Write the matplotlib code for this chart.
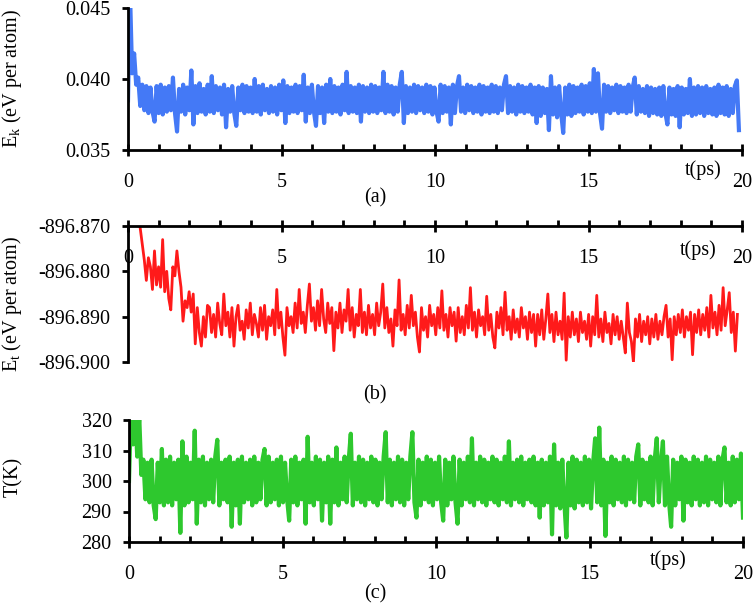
import numpy as np
import matplotlib
matplotlib.use("Agg")
import matplotlib.pyplot as plt
from matplotlib.ticker import MultipleLocator

plt.rcParams['font.family'] = ['Liberation Serif', 'DejaVu Serif']
plt.rcParams['mathtext.fontset'] = 'custom'
plt.rcParams['mathtext.rm'] = 'Liberation Serif'
plt.rcParams['mathtext.it'] = 'Liberation Serif:italic'
plt.rcParams['path.simplify'] = False

# ---------------- data ----------------
t_end_a = 19.9
ek = [
    0.0385, 0.0460, 0.0404, 0.0418, 0.0396, 0.0401, 0.0381, 0.0396, 0.0378, 0.0395, 0.0376, 0.0394, 0.0377, 0.0370, 0.0395, 0.0376, 0.0396, 0.0375, 0.0394, 0.0377,
    0.0395, 0.0378, 0.0401, 0.0376, 0.0363, 0.0393, 0.0377, 0.0396, 0.0375, 0.0394, 0.0378, 0.0406, 0.0368, 0.0395, 0.0376, 0.0397, 0.0377, 0.0393, 0.0375, 0.0396,
    0.0377, 0.0402, 0.0376, 0.0395, 0.0378, 0.0394, 0.0375, 0.0396, 0.0366, 0.0393, 0.0377, 0.0395, 0.0376, 0.0367, 0.0394, 0.0378, 0.0396, 0.0376, 0.0395, 0.0377,
    0.0394, 0.0376, 0.0400, 0.0377, 0.0395, 0.0375, 0.0396, 0.0378, 0.0393, 0.0376, 0.0395, 0.0377, 0.0394, 0.0375, 0.0396, 0.0378, 0.0399, 0.0369, 0.0395, 0.0376,
    0.0394, 0.0377, 0.0396, 0.0376, 0.0395, 0.0378, 0.0403, 0.0370, 0.0394, 0.0376, 0.0396, 0.0377, 0.0367, 0.0395, 0.0376, 0.0394, 0.0369, 0.0396, 0.0377, 0.0400,
    0.0376, 0.0395, 0.0377, 0.0394, 0.0375, 0.0396, 0.0378, 0.0405, 0.0376, 0.0395, 0.0377, 0.0394, 0.0376, 0.0396, 0.0370, 0.0395, 0.0377, 0.0394, 0.0376, 0.0396,
    0.0377, 0.0395, 0.0376, 0.0394, 0.0378, 0.0405, 0.0376, 0.0396, 0.0377, 0.0395, 0.0375, 0.0394, 0.0377, 0.0396, 0.0405, 0.0369, 0.0395, 0.0376, 0.0394, 0.0377,
    0.0396, 0.0376, 0.0395, 0.0378, 0.0394, 0.0376, 0.0396, 0.0377, 0.0395, 0.0375, 0.0394, 0.0377, 0.0370, 0.0396, 0.0376, 0.0395, 0.0377, 0.0394, 0.0368, 0.0396,
    0.0376, 0.0395, 0.0402, 0.0377, 0.0394, 0.0376, 0.0396, 0.0378, 0.0395, 0.0376, 0.0394, 0.0377, 0.0396, 0.0375, 0.0395, 0.0377, 0.0394, 0.0376, 0.0396, 0.0377,
    0.0395, 0.0376, 0.0394, 0.0378, 0.0396, 0.0402, 0.0376, 0.0395, 0.0377, 0.0394, 0.0375, 0.0396, 0.0377, 0.0395, 0.0376, 0.0394, 0.0377, 0.0396, 0.0375, 0.0394,
    0.0369, 0.0395, 0.0374, 0.0394, 0.0376, 0.0393, 0.0364, 0.0402, 0.0375, 0.0394, 0.0373, 0.0395, 0.0376, 0.0362, 0.0394, 0.0375, 0.0396, 0.0374, 0.0395, 0.0376,
    0.0394, 0.0377, 0.0396, 0.0375, 0.0395, 0.0377, 0.0397, 0.0376, 0.0407, 0.0377, 0.0404, 0.0376, 0.0365, 0.0396, 0.0377, 0.0395, 0.0376, 0.0394, 0.0378, 0.0396,
    0.0376, 0.0395, 0.0377, 0.0394, 0.0376, 0.0396, 0.0377, 0.0394, 0.0401, 0.0375, 0.0395, 0.0377, 0.0393, 0.0376, 0.0395, 0.0374, 0.0394, 0.0376, 0.0393, 0.0375,
    0.0394, 0.0374, 0.0395, 0.0376, 0.0368, 0.0394, 0.0375, 0.0393, 0.0374, 0.0395, 0.0366, 0.0394, 0.0375, 0.0393, 0.0376, 0.0400, 0.0374, 0.0394, 0.0375, 0.0395,
    0.0376, 0.0394, 0.0374, 0.0395, 0.0376, 0.0393, 0.0375, 0.0394, 0.0374, 0.0396, 0.0376, 0.0394, 0.0375, 0.0395, 0.0374, 0.0393, 0.0376, 0.0395, 0.0399, 0.0364,
]

t_end_b = 19.85
et = [
    -896.862, -896.864, -896.866, -896.865, -896.867, -896.868, -896.8705, -896.8740, -896.8775, -896.8820,
    -896.8770, -896.8790, -896.8840, -896.8755, -896.8830, -896.8790, -896.8835, -896.8730, -896.8845, -896.8800,
    -896.8860, -896.8885, -896.8790, -896.8810, -896.8755, -896.8800, -896.8835, -896.8910, -896.8865, -896.8880,
    -896.8845, -896.8890, -896.8850, -896.8960, -896.8880, -896.8935, -896.8965, -896.8900, -896.8945, -896.8875,
    -896.8880, -896.8935, -896.8895, -896.8945, -896.8870, -896.8915, -896.8940, -896.8850, -896.8920, -896.8890,
    -896.8945, -896.8880, -896.8965, -896.8900, -896.8875, -896.8930, -896.8910, -896.8950, -896.8885, -896.8925,
    -896.8870, -896.8940, -896.8895, -896.8915, -896.8945, -896.8880, -896.8930, -896.8875, -896.8950, -896.8900,
    -896.8920, -896.8885, -896.8940, -896.8840, -896.8925, -896.8890, -896.8945, -896.8985, -896.8880, -896.8920,
    -896.8900, -896.8935, -896.8870, -896.8925, -896.8840, -896.8915, -896.8890, -896.8935, -896.8875, -896.8828,
    -896.8910, -896.8880, -896.8930, -896.8865, -896.8920, -896.8840, -896.8905, -896.8935, -896.8870, -896.8915,
    -896.8880, -896.8975, -896.8890, -896.8925, -896.8870, -896.8935, -896.8885, -896.8910, -896.8840, -896.8930,
    -896.8880, -896.8945, -896.8895, -896.8920, -896.8840, -896.8935, -896.8890, -896.8940, -896.8875, -896.8925,
    -896.8895, -896.8940, -896.8870, -896.8920, -896.8890, -896.8828, -896.8925, -896.8880, -896.8935, -896.8905,
    -896.8965, -896.8885, -896.8920, -896.8819, -896.8930, -896.8895, -896.8940, -896.8875, -896.8925, -896.8853,
    -896.8920, -896.8890, -896.8945, -896.8978, -896.8880, -896.8930, -896.8900, -896.8945, -896.8875, -896.8920,
    -896.8895, -896.8940, -896.8880, -896.8925, -896.8843, -896.8930, -896.8895, -896.8945, -896.8880, -896.8920,
    -896.8890, -896.8954, -896.8880, -896.8935, -896.8900, -896.8940, -896.8875, -896.8925, -896.8836, -896.8930,
    -896.8890, -896.8945, -896.8885, -896.8920, -896.8900, -896.8940, -896.8855, -896.8930, -896.8895, -896.8945,
    -896.8969, -896.8890, -896.8925, -896.8880, -896.8940, -896.8846, -896.8930, -896.8900, -896.8950, -896.8885,
    -896.8935, -896.8905, -896.8945, -896.8880, -896.8925, -896.8900, -896.8950, -896.8890, -896.8935, -896.8895,
    -896.8965, -896.8895, -896.8940, -896.8885, -896.8950, -896.8905, -896.8850, -896.8935, -896.8895, -896.8955,
    -896.8890, -896.8940, -896.8910, -896.8950, -896.8848, -896.8996, -896.8900, -896.8945, -896.8890, -896.8940,
    -896.8905, -896.8955, -896.8890, -896.8935, -896.8910, -896.8950, -896.8895, -896.8965, -896.8900, -896.8940,
    -896.8853, -896.8945, -896.8905, -896.8955, -896.8890, -896.8935, -896.8915, -896.8960, -896.8895, -896.8940,
    -896.8900, -896.8950, -896.8910, -896.8945, -896.8980, -896.8870, -896.8935, -896.8955, -896.9001, -896.8905,
    -896.8945, -896.8895, -896.8955, -896.8910, -896.8940, -896.8900, -896.8960, -896.8905, -896.8945, -896.8895,
    -896.8950, -896.8910, -896.8940, -896.8900, -896.8875, -896.8945, -896.8905, -896.8995, -896.8900, -896.8940,
    -896.8895, -896.8935, -896.8885, -896.8945, -896.8900, -896.8930, -896.8890, -896.8984, -896.8895, -896.8935,
    -896.8885, -896.8940, -896.8895, -896.8930, -896.8880, -896.8945, -896.8853, -896.8925, -896.8890, -896.8940,
    -896.8875, -896.8930, -896.8836, -896.8920, -896.8885, -896.8847, -896.8935, -896.8890, -896.8976, -896.8895,
]

t_end_c = 20.0
temp = [
    300, 324, 312, 323, 308, 321, 302, 307, 294, 306, 293, 307, 292, 287.5, 306, 293, 310.5, 292, 307, 293,
    308, 292, 306, 294, 307, 283, 313, 292, 308, 293, 306, 294, 316.5, 286, 307, 293, 308, 292, 306, 294,
    307, 293, 308, 313.5, 292, 306, 294, 307, 293, 308, 285, 306, 292, 307, 286, 308, 293, 306, 294, 307,
    292, 308, 293, 306, 294, 307, 310.5, 292, 308, 293, 306, 294, 307, 292, 308, 293, 306, 294, 287, 307,
    293, 308, 292, 306, 294, 307, 286, 314.5, 293, 306, 292, 308, 294, 307, 287, 306, 293, 308, 286, 307,
    293, 311, 292, 306, 294, 308, 293, 307, 315.5, 292, 306, 294, 308, 293, 307, 292, 306, 294, 308, 293,
    307, 292, 306, 294, 308, 316, 293, 307, 292, 306, 294, 308, 293, 307, 292, 306, 294, 308, 316, 293,
    288, 307, 292, 306, 294, 308, 293, 307, 292, 306, 294, 308, 293, 287, 307, 292, 306, 294, 308, 293,
    286, 307, 292, 306, 294, 308, 293, 314, 292, 306, 294, 308, 293, 307, 292, 306, 294, 308, 293, 307,
    292, 306, 294, 308, 293, 313, 292, 306, 294, 307, 293, 308, 292, 306, 294, 307, 293, 308, 292, 306,
    288, 307, 292, 306, 293, 308, 282.5, 312, 292, 306, 291, 307, 293, 281.5, 306, 292, 308, 291, 307, 293,
    306, 292, 308, 293, 307, 291, 306, 314, 293, 317.5, 292, 307, 282, 306, 293, 308, 292, 307, 294, 306,
    293, 308, 292, 307, 294, 306, 293, 308, 312, 292, 307, 294, 306, 293, 308, 292, 307, 314, 293, 306,
    313, 292, 308, 293, 285, 307, 292, 306, 294, 308, 287, 307, 293, 306, 292, 308, 294, 307, 292, 306,
    293, 308, 292, 307, 294, 306, 293, 308, 292, 307, 311, 293, 306, 292, 308, 293, 307, 294, 309, 288,
]

x_ticks = [0, 5, 10, 15, 20]
ek_ticks = [0.035, 0.040, 0.045]
et_ticks = [-896.900, -896.890, -896.880, -896.870]
temp_ticks = [280, 290, 300, 310, 320]

# ---------------- figure ----------------
W, H = 756, 605
fig = plt.figure(figsize=(W / 100, H / 100), dpi=100)

def ax_px(left, right, top, bottom):
    return fig.add_axes([left / W, 1 - bottom / H, (right - left) / W, (bottom - top) / H])

FS = 14.5

def style(ax, ylo, yhi, yticks, yfmt, xaxis_at=None):
    ax.set_xlim(0, 20)
    ax.set_ylim(ylo, yhi)
    for s in ['top', 'right']:
        ax.spines[s].set_visible(False)
    for s in ['left', 'bottom']:
        ax.spines[s].set_linewidth(2.0)
    if xaxis_at is not None:
        ax.spines['bottom'].set_position(('data', xaxis_at))
    ax.set_xticks(x_ticks)
    ax.xaxis.set_minor_locator(MultipleLocator(1))
    ax.set_yticks(yticks)
    ax.set_yticklabels([yfmt.format(v) for v in yticks])
    ax.tick_params(axis='x', which='major', direction='inout', length=9, width=2.0,
                   labelsize=FS, pad=12)
    ax.tick_params(axis='x', which='minor', direction='in', length=4.5, width=2.0)
    ax.tick_params(axis='y', which='major', direction='out', length=4.5, width=2.0,
                   labelsize=FS, pad=8)
    ax.patch.set_alpha(0)

# (a)
ax1 = ax_px(128, 742, 8, 150)
t_a = np.linspace(0, t_end_a, len(ek))
ax1.plot(t_a, ek, color='#4479f6', lw=3.0)
style(ax1, 0.035, 0.045, ek_ticks, '{:.3f}')

# (b)
ax2 = ax_px(128, 742, 226, 362)
t_b = np.linspace(0, t_end_b, len(et))
ax2.plot(t_b, et, color='#ff1a1a', lw=2.0)
style(ax2, -896.900, -896.870, et_ticks, '{:.3f}', xaxis_at=-896.870)

# (c)
ax3 = ax_px(129, 743, 420, 542)
t_c = np.linspace(0, t_end_c, len(temp))
ax3.plot(t_c, temp, color='#2ec82e', lw=3.0)
style(ax3, 280, 320, temp_ticks, '{:.0f}')

# axis / panel texts
fig.text(12 / W, 1 - 79 / H, r'E$_\mathregular{k}$ (eV per atom)', rotation=90,
         ha='center', va='center', fontsize=FS)
fig.text(12 / W, 1 - 304 / H, r'E$_\mathregular{t}$ (eV per atom)', rotation=90,
         ha='center', va='center', fontsize=FS)
fig.text(14 / W, 1 - 477 / H, 'T(K)', rotation=90, ha='center', va='center', fontsize=FS)

fig.text(703 / W, 1 - 170 / H, 't(ps)', ha='center', va='center', fontsize=FS)
fig.text(698 / W, 1 - 250 / H, 't(ps)', ha='center', va='center', fontsize=FS)
fig.text(668 / W, 1 - 560 / H, 't(ps)', ha='center', va='center', fontsize=FS)

fig.text(375 / W, 1 - 198 / H, '(a)', ha='center', va='center', fontsize=FS)
fig.text(375 / W, 1 - 395 / H, '(b)', ha='center', va='center', fontsize=FS)
fig.text(375 / W, 1 - 594 / H, '(c)', ha='center', va='center', fontsize=FS)

fig.savefig('out.png', dpi=100)
